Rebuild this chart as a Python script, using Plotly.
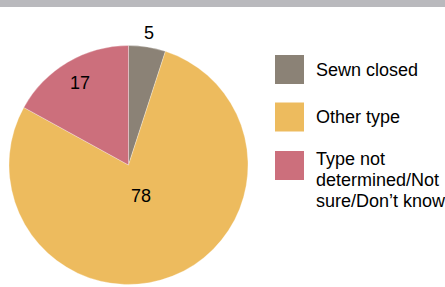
import math
import plotly.graph_objects as go

labels = ["Sewn closed", "Other type", "Type not determined/Not sure/Don't know"]
legend_lines = [["Sewn closed"], ["Other type"], ["Type not", "determined/Not", "sure/Don’t know"]]
values = [5, 78, 17]
colors = ["#8b8276", "#edbb5e", "#cc6f7c"]
label_radius = [1.12, 0.28, 0.80]   # label distance from centre, as share of radius

W, H = 445, 287
FONT = "Liberation Sans, Arial, sans-serif"

# pie box in pixels
cx, cy, R = 128.5, 165.0, 119.5

fig = go.Figure()
fig.add_trace(go.Pie(
    labels=labels,
    values=values,
    marker=dict(colors=colors, line=dict(color="rgba(255,255,255,0.6)", width=0.5)),
    sort=False,
    direction="clockwise",
    rotation=0,
    textinfo="none",
    domain=dict(x=[(cx - R) / W, (cx + R) / W], y=[1 - (cy + R) / H, 1 - (cy - R) / H]),
    showlegend=False,
    hoverinfo="label+value",
))

# value labels, placed at each slice's mid-angle
total = sum(values)
cum = 0
for v, f in zip(values, label_radius):
    mid = (cum + v / 2) / total * 2 * math.pi
    cum += v
    px = cx + math.sin(mid) * R * f
    py = cy - math.cos(mid) * R * f
    fig.add_annotation(xref="paper", yref="paper", x=px / W, y=1 - py / H,
                       text=str(v), showarrow=False, xanchor="center", yanchor="middle",
                       font=dict(family=FONT, size=18, color="#000000"))

# top band
fig.add_shape(type="rect", xref="paper", yref="paper", x0=0, x1=1,
              y0=1 - 7 / H, y1=1, fillcolor="#b9b9bd", line=dict(width=0), layer="above")

# custom legend
sw_top = [55, 102.5, 151]
sw = 29
sw_x = 275
txt_x = 314
for i, lines in enumerate(legend_lines):
    y0 = sw_top[i]
    fig.add_shape(type="rect", xref="paper", yref="paper",
                  x0=sw_x / W, x1=(sw_x + sw) / W,
                  y0=1 - (y0 + sw) / H, y1=1 - y0 / H,
                  fillcolor=colors[i], line=dict(width=0))
    if len(lines) == 1:
        centers = [y0 + sw / 2]
    else:
        centers = [y0 + 8 + 21 * k for k in range(len(lines))]
    for c, ln in zip(centers, lines):
        fig.add_annotation(xref="paper", yref="paper", x=txt_x / W, y=1 - c / H,
                           text=ln, showarrow=False, xanchor="left", yanchor="middle",
                           font=dict(family=FONT, size=18, color="#000000"))

fig.update_layout(
    width=W, height=H,
    margin=dict(l=0, r=0, t=0, b=0),
    paper_bgcolor="#ffffff",
    plot_bgcolor="#ffffff",
)

fig.write_html("out.html", config={"displayModeBar": False},
               post_script="document.body.style.margin='0';")
